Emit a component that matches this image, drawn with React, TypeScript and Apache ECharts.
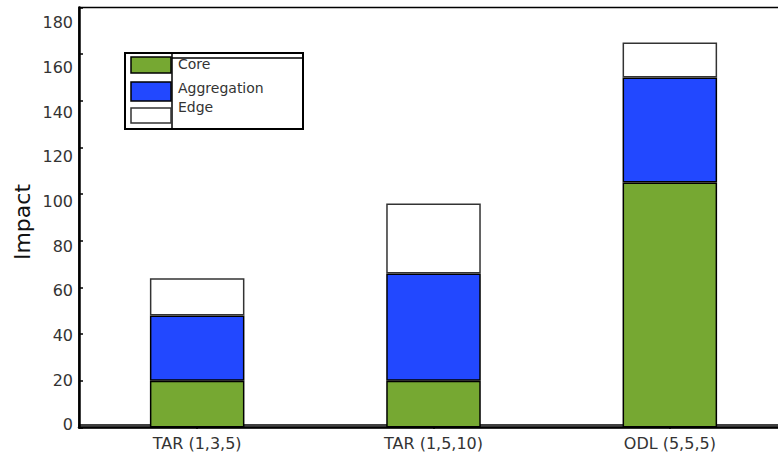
import React, { useEffect, useRef } from "react";
import * as echarts from "echarts";

// Stacked impact per topology
const categories = ["TAR (1,3,5)", "TAR (1,5,10)", "ODL (5,5,5)"];
const seriesNames = ["Core", "Aggregation", "Edge"];
const coreValues = [20, 20, 105];
const aggregationValues = [28, 46, 45];
const edgeValues = [16, 30, 15];
const yTickLabels = [0, 20, 40, 60, 80, 100, 120, 140, 160, 180];

const colors = ["#76a832", "#2248ff", "#ffffff"];
const borders = ["#000000", "#000000", "#333333"];

const FONT = "DejaVu Sans";

export default function App() {
  const ref = useRef<HTMLDivElement>(null);

  useEffect(() => {
    if (!ref.current) return;
    const chart = echarts.init(ref.current, undefined, { renderer: "svg" });
    const values = [coreValues, aggregationValues, edgeValues];

    // legend box with swatches drawn as graphics
    const swatches = [
      { y: 57, h: 16 },
      { y: 82, h: 19 },
      { y: 108, h: 15 },
    ];
    const textY = [64, 88, 107];
    const legendGraphic: any[] = [
      {
        type: "rect",
        shape: { x: 125, y: 53, width: 178, height: 76 },
        style: { fill: "#fff", stroke: "#000", lineWidth: 2 },
        z: 100,
      },
      {
        type: "line",
        shape: { x1: 172, y1: 58, x2: 303, y2: 58 },
        style: { stroke: "#000", lineWidth: 1.5 },
        z: 101,
      },
      {
        type: "line",
        shape: { x1: 172, y1: 53, x2: 172, y2: 129 },
        style: { stroke: "#000", lineWidth: 1.5 },
        z: 101,
      },
    ];
    seriesNames.forEach((name, i) => {
      legendGraphic.push({
        type: "rect",
        shape: { x: 131, y: swatches[i].y, width: 40, height: swatches[i].h },
        style: { fill: colors[i], stroke: borders[i], lineWidth: 1.5 },
        z: 102,
      });
      legendGraphic.push({
        type: "text",
        x: 178,
        y: textY[i],
        style: {
          text: name,
          fill: "#333",
          font: `14px "${FONT}"`,
          verticalAlign: "middle",
          align: "left",
        },
        z: 102,
      });
    });

    chart.setOption({
      animation: false,
      backgroundColor: "#fff",
      grid: {
        left: 79,
        top: 7.5,
        right: -10,
        bottom: 27.5,
        outerBoundsMode: "none",
        containLabel: false,
        show: true,
        borderColor: "#000",
        borderWidth: 1.5,
        backgroundColor: "transparent",
      },
      xAxis: [
        {
          type: "category",
          data: categories,
          position: "bottom",
          axisLine: { lineStyle: { color: "#000", width: 2.5 } },
          axisTick: { show: false },
          axisLabel: {
            color: "#333",
            fontFamily: FONT,
            fontSize: 16,
            margin: 8,
          },
        },
        {
          type: "category",
          data: categories,
          position: "top",
          axisLine: { lineStyle: { color: "#000", width: 1.5 } },
          axisTick: {
            show: true,
            inside: true,
            length: 4,
            alignWithLabel: true,
            lineStyle: { color: "#000", width: 1.5 },
          },
          axisLabel: { show: false },
        },
      ],
      yAxis: [
        {
          type: "value",
          min: 0,
          max: 180,
          interval: 20,
          position: "left",
          axisLine: { show: true, lineStyle: { color: "#000", width: 2.5 } },
          axisTick: {
            show: true,
            inside: true,
            length: 4,
            lineStyle: { color: "#000", width: 1.5 },
          },
          axisLabel: { show: false },
          splitLine: { show: false },
        },
        {
          // tick labels sit on a slightly compressed scale
          type: "value",
          min: -1.12,
          max: 186.9,
          position: "left",
          axisLine: { show: false },
          axisTick: { show: false },
          splitLine: { show: false },
          axisLabel: {
            customValues: yTickLabels,
            color: "#333",
            fontFamily: FONT,
            fontSize: 16,
            margin: 6,
          },
        },
      ],
      graphic: [
        {
          type: "text",
          x: 22,
          y: 222,
          rotation: Math.PI / 2,
          style: {
            text: "Impact",
            fill: "#111",
            font: `22px "${FONT}"`,
            align: "center",
            verticalAlign: "middle",
          },
        },
        ...legendGraphic,
      ],
      series: seriesNames.map((name, i) => ({
        name,
        type: "bar",
        stack: "total",
        barWidth: "40%",
        xAxisIndex: 0,
        yAxisIndex: 0,
        data: values[i],
        itemStyle: {
          color: colors[i],
          borderColor: borders[i],
          borderWidth: 1.5,
        },
      })),
    });

    return () => chart.dispose();
  }, []);

  return (
    <div
      ref={ref}
      style={{ position: "absolute", left: 0, top: 0, width: 778, height: 455 }}
    />
  );
}
